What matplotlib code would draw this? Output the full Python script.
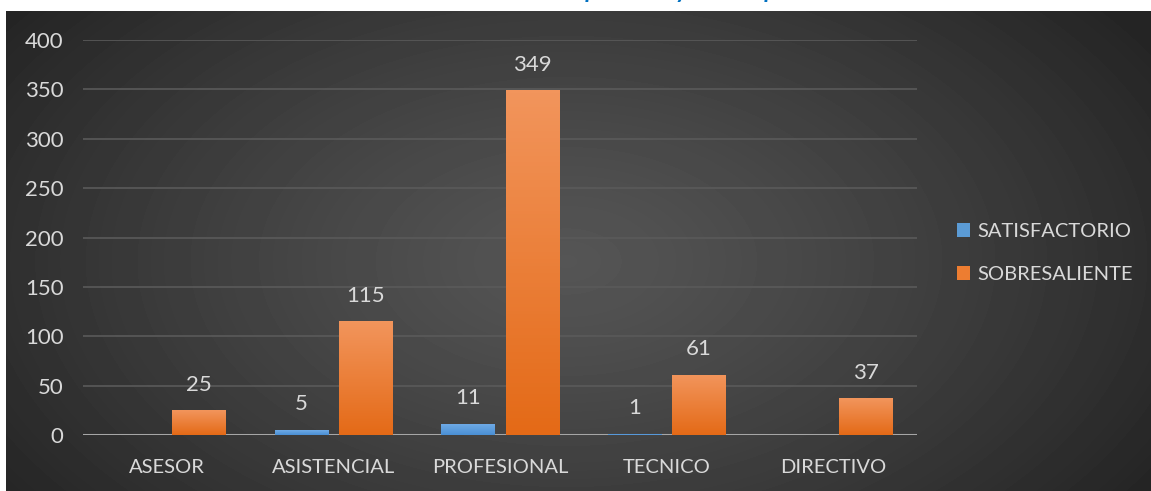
import numpy as np
import matplotlib.pyplot as plt
from matplotlib.patches import Patch
from matplotlib.colors import LinearSegmentedColormap

# data
categories = ['ASESOR', 'ASISTENCIAL', 'PROFESIONAL', 'TECNICO', 'DIRECTIVO']
satisfactorio = [0, 5, 11, 1, 0]
sobresaliente = [25, 115, 349, 61, 37]
series_names = ['SATISFACTORIO', 'SOBRESALIENTE']
yticks = [0, 50, 100, 150, 200, 250, 300, 350, 400]

W, H = 1151, 491
TXT = '#d9d9d9'
plt.rcParams['font.family'] = ['Lato', 'DejaVu Sans']

fig = plt.figure(figsize=(W / 100, H / 100), dpi=100)
fig.patch.set_facecolor('white')

# dark radial gradient background of the chart area
bg = fig.add_axes([6 / W, 0, 1 - 6 / W, 1 - 11 / H])
yy, xx = np.mgrid[0:480, 0:1145]
r = np.sqrt(((xx - 560) / 700.0) ** 2 + ((yy - 250) / 420.0) ** 2)
r = np.clip(r, 0, 1)
shade = 0x55 - (0x55 - 0x24) * r ** 1.2
bg.imshow(shade, cmap='gray', vmin=0, vmax=255, aspect='auto', interpolation='bilinear')
bg.axis('off')

# title, cut off by the top edge as in the original
fig.text(0.548, 1 + 1.5 / H, 'Resultados por nivel y en su tipo', ha='center', va='baseline',
         color='#0070c0', fontsize=17, fontweight='bold', style='italic')

ax = fig.add_axes([83 / W, 1 - 435 / H, (917 - 83) / W, (435 - 40) / H])
ax.set_facecolor('none')

x = np.arange(len(categories))
width = 0.318
off = 0.192
b1 = ax.bar(x - off, satisfactorio, width, color='#5b9bd5', label=series_names[0], zorder=3)
b2 = ax.bar(x + off, sobresaliente, width, color='#ed7d31', label=series_names[1], zorder=3)

blue_cm = LinearSegmentedColormap.from_list('b', ['#4a8fd4', '#6eaae6'])
orange_cm = LinearSegmentedColormap.from_list('o', ['#e46a17', '#f2955c'])
grad = np.linspace(0, 1, 100).reshape(-1, 1)
for bars, cm in [(b1, blue_cm), (b2, orange_cm)]:
    for p in bars:
        h = p.get_height()
        if h <= 0:
            continue
        im = ax.imshow(grad, cmap=cm, origin='lower', aspect='auto', zorder=4,
                       extent=(p.get_x(), p.get_x() + p.get_width(), 0, h))
        im.set_clip_path(p)

# value labels
for bars, vals in [(b1, satisfactorio), (b2, sobresaliente)]:
    for p, v in zip(bars, vals):
        if v == 0:
            continue
        ax.text(p.get_x() + p.get_width() / 2, v + 16, str(v), ha='center', va='bottom',
                color=TXT, fontsize=16, zorder=5)

ax.set_xlim(-0.5, len(categories) - 0.5)
ax.set_ylim(0, 400)
ax.set_yticks(yticks)
ax.set_xticks(x)
ax.set_xticklabels(categories)
ax.tick_params(length=0, colors=TXT, labelsize=14.5)
ax.tick_params(axis='y', pad=14, labelsize=16)
ax.tick_params(axis='x', pad=17)
ax.grid(axis='y', color='#5a5a5a', linewidth=1.2, zorder=0)
ax.axhline(0, color='#a6a6a6', linewidth=2.2, zorder=2)
for s in ax.spines.values():
    s.set_visible(False)

handles = [Patch(facecolor='#5b9bd5'), Patch(facecolor='#ed7d31')]
leg = fig.legend(handles, series_names, loc='center left', bbox_to_anchor=(939 / W, 1 - 253 / H),
                 frameon=False, fontsize=14.5, labelcolor=TXT, handlelength=0.65, handleheight=0.65,
                 handletextpad=0.35, labelspacing=1.3)

fig.savefig('out.png', dpi=100)
